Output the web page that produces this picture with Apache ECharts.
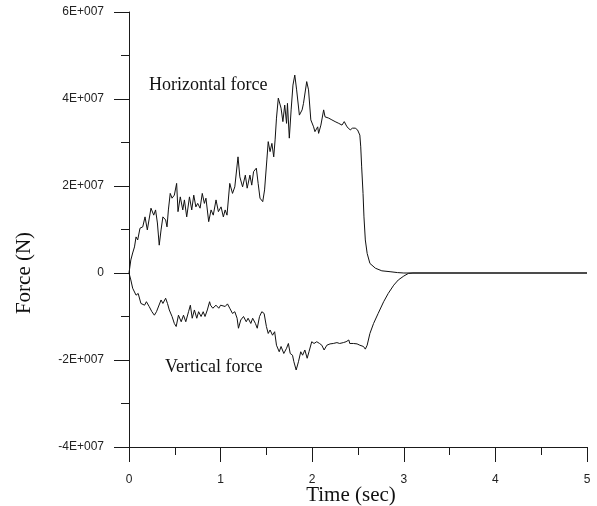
<!DOCTYPE html>
<html>
<head>
<meta charset="utf-8">
<script src="https://cdn.jsdelivr.net/npm/echarts@6/dist/echarts.min.js"></script>
<style>html,body{margin:0;padding:0;background:#fff}#c{width:597px;height:506px}</style>
</head>
<body>
<div id="c"></div>
<script>
// Force values are in units of 1E+007 N
const hTime = [0,0.02,0.04,0.06,0.077,0.095,0.12,0.15,0.175,0.20,0.24,0.27,0.29,0.31,0.33,0.35,0.37,0.40,0.415,0.43,0.45,0.47,0.495,0.52,0.535,0.56,0.587,0.605,0.63,0.66,0.685,0.707,0.73,0.75,0.776,0.80,0.823,0.84,0.87,0.896,0.92,0.95,0.976,1.005,1.03,1.05,1.07,1.10,1.13,1.155,1.19,1.21,1.24,1.27,1.29,1.32,1.34,1.36,1.39,1.41,1.43,1.46,1.48,1.505,1.52,1.54,1.56,1.58,1.595,1.61,1.63,1.66,1.68,1.70,1.72,1.73,1.75,1.77,1.79,1.81,1.83,1.86,1.89,1.905,1.94,1.96,1.985,2.015,2.03,2.06,2.07,2.095,2.125,2.14,2.18,2.215,2.25,2.29,2.325,2.35,2.38,2.415,2.44,2.47,2.495,2.52,2.53,2.54,2.555,2.565,2.58,2.60,2.63,2.69,2.76,2.85,2.93,3.0,5.0];
const hForce = [0,0.30,0.46,0.60,0.83,0.76,1.03,1.06,1.29,0.99,1.49,1.33,1.45,1.15,0.64,0.99,1.29,1.22,1.06,1.45,1.83,1.72,1.79,2.06,1.41,1.75,1.45,1.68,1.29,1.75,1.45,1.79,1.52,1.60,1.49,1.83,1.60,1.72,1.18,1.45,1.33,1.68,1.41,1.52,1.29,1.45,1.33,2.06,1.83,1.98,2.67,2.21,1.98,2.25,1.95,2.25,2.02,2.33,2.41,2.06,1.72,1.64,1.91,2.60,3.02,2.79,2.98,2.67,3.06,3.56,4.02,3.79,3.48,3.86,3.44,3.90,3.10,3.75,4.32,4.55,4.21,3.63,3.75,3.90,4.40,4.21,3.52,3.36,3.25,3.36,3.21,3.40,3.75,3.59,3.56,3.52,3.48,3.44,3.40,3.48,3.36,3.29,3.33,3.33,3.29,3.17,2.90,2.44,1.83,1.29,0.76,0.45,0.22,0.11,0.05,0.03,0.01,0,0];
const vTime = [0,0.02,0.04,0.06,0.077,0.10,0.13,0.17,0.19,0.22,0.25,0.277,0.30,0.32,0.35,0.37,0.40,0.42,0.44,0.47,0.495,0.515,0.54,0.57,0.595,0.62,0.65,0.67,0.69,0.714,0.74,0.76,0.787,0.81,0.83,0.855,0.88,0.89,0.915,0.95,0.98,1.00,1.02,1.05,1.075,1.10,1.13,1.155,1.18,1.195,1.22,1.25,1.28,1.30,1.33,1.35,1.38,1.40,1.425,1.45,1.475,1.50,1.52,1.54,1.567,1.59,1.61,1.64,1.66,1.69,1.72,1.74,1.76,1.785,1.80,1.825,1.85,1.875,1.895,1.92,1.945,1.965,1.995,2.02,2.05,2.08,2.105,2.13,2.16,2.195,2.23,2.27,2.30,2.34,2.37,2.40,2.41,2.45,2.49,2.52,2.56,2.58,2.60,2.63,2.67,2.72,2.78,2.83,2.89,2.94,3.00,3.05,3.10,5.0];
const vForce = [0,-0.16,-0.35,-0.31,-0.51,-0.47,-0.70,-0.74,-0.66,-0.77,-0.89,-0.97,-0.89,-0.93,-0.62,-0.70,-0.58,-0.70,-0.85,-1.00,-1.16,-1.23,-0.97,-1.12,-0.97,-1.12,-0.89,-0.74,-1.04,-0.85,-1.04,-0.89,-1.00,-0.89,-1.00,-0.85,-0.66,-0.74,-0.81,-0.74,-0.81,-0.74,-0.70,-0.77,-0.71,-0.81,-0.93,-0.89,-1.04,-1.27,-1.08,-1.00,-1.12,-1.04,-1.16,-1.04,-1.16,-1.27,-1.00,-0.89,-0.93,-1.23,-1.39,-1.31,-1.43,-1.35,-1.66,-1.81,-1.69,-1.85,-1.73,-1.62,-1.85,-1.89,-2.04,-2.23,-2.04,-1.81,-1.89,-1.77,-1.96,-1.81,-1.58,-1.62,-1.58,-1.62,-1.66,-1.77,-1.66,-1.63,-1.62,-1.60,-1.62,-1.60,-1.58,-1.54,-1.62,-1.62,-1.63,-1.66,-1.69,-1.75,-1.66,-1.39,-1.16,-0.93,-0.66,-0.47,-0.28,-0.16,-0.07,-0.01,0,0];
const xTickLabels = ['0','1','2','3','4','5'];
const yTickLabels = {'-4':'-4E+007','-2':'-2E+007','0':'0','2':'2E+007','4':'4E+007','6':'6E+007'};
const seriesNames = ['Horizontal force','Vertical force'];
const axisTitles = {x:'Time (sec)', y:'Force (N)'};

const zip = (a,b) => a.map((t,i)=>[t,b[i]]);
const chart = echarts.init(document.getElementById('c'), null, {renderer:'canvas'});
const axisCol = '#1a1a1a';
const sansFont = 'Liberation Sans, Arial, sans-serif';
const serifFont = 'Liberation Serif, Times New Roman, serif';
chart.setOption({
  animation:false,
  backgroundColor:'#fff',
  grid:{left:129,right:10,top:12,bottom:59,containLabel:false},
  xAxis:{type:'value',min:0,max:5,interval:1,
    axisLine:{onZero:false,lineStyle:{color:axisCol,width:1}},
    axisTick:{length:15,lineStyle:{color:axisCol}},
    minorTick:{show:true,splitNumber:2,length:8,lineStyle:{color:axisCol}},
    splitLine:{show:false},minorSplitLine:{show:false},
    axisLabel:{margin:27,fontSize:12,color:'#222',fontFamily:sansFont,
      formatter:v=>xTickLabels[Math.round(v)]}},
  yAxis:{type:'value',min:-4,max:6,interval:2,
    axisLine:{onZero:false,lineStyle:{color:axisCol,width:1}},
    axisTick:{length:15,lineStyle:{color:axisCol}},
    minorTick:{show:true,splitNumber:2,length:8,lineStyle:{color:axisCol}},
    splitLine:{show:false},minorSplitLine:{show:false},
    axisLabel:{margin:25,fontSize:12,color:'#222',fontFamily:sansFont,
      formatter:v=>yTickLabels[String(Math.round(v))]}},
  series:[
    {name:seriesNames[0],type:'line',data:zip(hTime,hForce),showSymbol:false,
     lineStyle:{color:'#111',width:1},z:3},
    {name:seriesNames[1],type:'line',data:zip(vTime,vForce),showSymbol:false,
     lineStyle:{color:'#111',width:1},z:3}
  ],
  graphic:[
    {type:'text',x:149,y:85,style:{text:seriesNames[0],font:'18px '+serifFont,fill:'#111',textAlign:'left',textVerticalAlign:'middle'}},
    {type:'text',x:165,y:367,style:{text:seriesNames[1],font:'18px '+serifFont,fill:'#111',textAlign:'left',textVerticalAlign:'middle'}},
    {type:'text',x:351,y:495,style:{text:axisTitles.x,font:'21px '+serifFont,fill:'#111',textAlign:'center',textVerticalAlign:'middle'}},
    {type:'text',x:24,y:273,rotation:Math.PI/2,style:{text:axisTitles.y,font:'21px '+serifFont,fill:'#111',textAlign:'center',textVerticalAlign:'middle'}}
  ]
});
</script>
</body>
</html>
